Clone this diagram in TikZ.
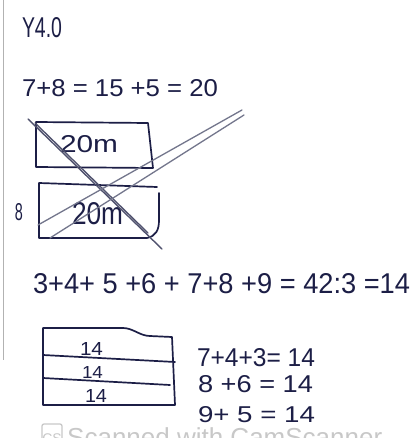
\documentclass[tikz,border=0pt]{standalone}
\usepackage{fontspec}
\setmainfont{Liberation Sans}
\definecolor{ink}{RGB}{28,30,70}
\definecolor{pencil}{RGB}{115,118,140}
\definecolor{pencildk}{RGB}{80,82,110}
\definecolor{wm}{RGB}{200,200,200}
\newcommand{\handtxt}[3]{\resizebox{#1pt}{#2pt}{#3}}
\begin{document}
\begin{tikzpicture}[x=1pt,y=-1pt,
  txt/.style={inner sep=0pt, outer sep=0pt, text=ink, anchor=north west},
  inkline/.style={draw=ink, line width=1.7pt, line cap=round, line join=round},
  crossline/.style={draw=pencil, line width=1.3pt, line cap=round},
  crossdark/.style={draw=pencildk, line width=1.4pt, line cap=round}]
\clip (0,0) rectangle (412,438);
\fill[white] (0,0) rectangle (412,438);
% scan edge
\draw[gray!60, line width=0.8pt] (3,0) -- (3,360);

% header and first sum
\node[txt] (title) at (22,18) {\handtxt{40}{20}{Y4.0}};
\node[txt] (sum1) at (22,80) {\handtxt{196}{17}{7+8 = 15 +5 = 20}};

% first bar
\draw[inkline] (36,122) -- (148,123) -- (153,168) -- (36,167) -- cycle;
\node[txt] (bar1) at (60,136) {\handtxt{58}{17}{20m}};
% second bar
\draw[inkline] (157,187) -- (39,183) -- (39,238) -- (147,238)
  .. controls (156,236) and (159,230) .. (159,220) -- (159,193);
\node[txt] (bar2) at (72,202) {\handtxt{51}{22}{20m}};
\node[txt] (eight) at (15,203) {\handtxt{8}{17}{8}};

% crossing-out strokes
\draw[crossdark] (28,119) -- (162,249);
\draw[crossdark] (35,123) -- (148,233);
\draw[crossline] (38,225) -- (242,110);
\draw[crossline] (50,238) -- (244,115);

% long sum
\node[txt] (sum2) at (33,273) {\handtxt{377}{20}{3+4+ 5 +6 + 7+8 +9 = 42:3 =14}};

% table of three rows
\draw[inkline] (43,328) -- (123,328) .. controls (133,328) and (140,336) .. (150,336)
  -- (172,337) -- (175,405) -- (43,405) -- cycle;
\draw[inkline] (43,355) -- (175,362);
\draw[inkline] (43,378) -- (170,385);
\node[txt] (r1) at (80,342) {\handtxt{23}{13}{14}};
\node[txt] (r2) at (82,366) {\handtxt{21}{12}{14}};
\node[txt] (r3) at (85,389) {\handtxt{22}{13}{14}};

% right-hand sums
\node[txt] (e1) at (197,348) {\handtxt{118}{18}{7+4+3= 14}};
\node[txt] (e2) at (198,375) {\handtxt{115}{17}{8 +6 = 14}};
\node[txt] (e3) at (198,406) {\handtxt{117}{16}{9+ 5 = 14}};

% watermark
\draw[wm, line width=1.3pt, rounded corners=2pt] (42,424) rectangle (62,450);
\node[text=wm, inner sep=0pt, anchor=base] (cs) at (52,443) {\fontsize{14}{14}\selectfont CS};
\node[text=wm, inner sep=0pt, anchor=base west] (scan) at (67,446) {\fontsize{26}{26}\selectfont Scanned with CamScanner};
\end{tikzpicture}
\end{document}
